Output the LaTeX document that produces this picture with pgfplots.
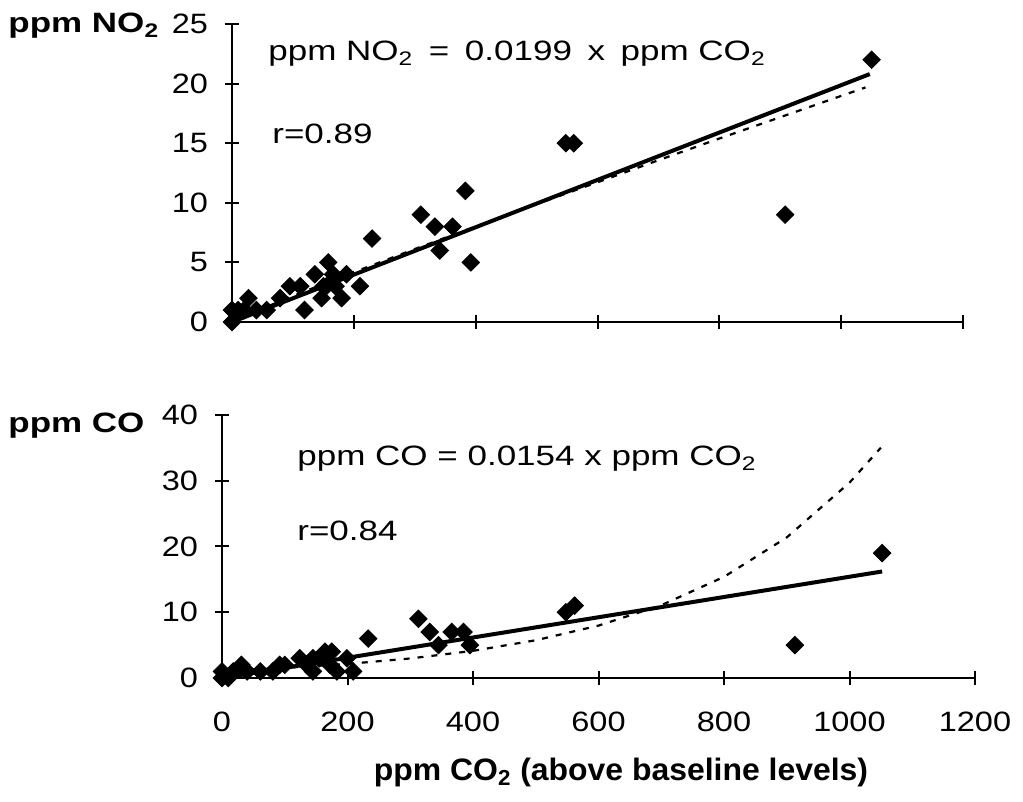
\documentclass[border=0pt]{standalone}
\usepackage{fontspec}
\setmainfont{Liberation Sans}
\newfontfamily\tickfont{Liberation Sans}[FakeStretch=1.16]
\newfontfamily\wide{Liberation Sans}[FakeStretch=1.25]
\newfontfamily\xfont{Liberation Sans}[FakeStretch=1.03]
\usepackage{pgfplots}
\pgfplotsset{compat=1.18}

% NO2 vs CO2 (top panel)
\pgfplotstableread{
x y
0 0
0 1
10 1
20 1
27 2
40 1
57 1
79 2
95 3
112 3
119 1
136 4
147 2
150 3
155 3
158 5
166 4
170 3
180 2
188 4
210 3
230 7
310 9
333 8
341 6
362 8
383 11
392 5
548 15
561 15
908 9
1050 22
}\noxdata
% CO vs CO2 (bottom panel)
\pgfplotstableread{
x y
0 0
0 1
10 0
18 1
31 2
40 1
61 1
81 1
92 2
100 2
124 3
135 2
145 3
145 1
155 3
164 4
172 2
175 4
183 1
199 3
209 1
233 6
313 9
331 7
345 5
366 7
385 7
395 5
548 10
562 11
913 5
1052 19
}\codata

\pgfplotsset{
  panel/.style={
    scale only axis, clip=false,
    xmin=0, xmax=1200,
    axis x line=bottom, axis y line=left,
    axis line style={-, line width=1.2pt},
    tick align=center, major tick length=7pt,
    tick style={line width=1pt, black},
    xtick={0,200,...,1200},
    /pgf/number format/assume math mode=true,
    /pgf/number format/1000 sep={},
    ticklabel style={font=\tickfont\fontsize{14}{16}\selectfont},
    yticklabel style={xshift=-5pt},
  },
  pts/.style={only marks, mark=square*, mark size=3.1pt,
    mark options={rotate=45, fill=black, draw=black}},
  fit/.style={black, line width=2pt},
  dots/.style={black, line width=1.1pt, dash pattern=on 3pt off 4pt},
}

\begin{document}
\begin{tikzpicture}
\path[use as bounding box] (0,0) rectangle (511.5pt,401pt);

\begin{axis}[panel,
  at={(116pt,240pt)}, anchor=south west,
  width=365.5pt, height=149pt,
  ymin=0, ymax=25, ytick={0,5,...,25},
  xticklabels={}]
  \addplot[dots] coordinates {(0,0) (10,0.25) (50,1.13) (100,2.18) (200,4.18)
    (300,6.12) (400,8.01) (500,9.89) (600,11.72) (700,13.57) (800,15.39)
    (900,17.18) (1040,19.68)};
  \addplot[fit] coordinates {(0,0) (1047,20.8)};
  \addplot[pts] table[x=x, y=y] {\noxdata};
\end{axis}

\begin{axis}[panel,
  at={(111pt,62pt)}, anchor=south west,
  width=376.5pt, height=131.5pt,
  ymin=0, ymax=40, ytick={0,10,...,40},
  xticklabel style={yshift=-10pt}]
  \addplot[dots] coordinates {(0,1.11) (100,1.54) (200,2.14) (300,2.97)
    (400,4.13) (500,5.74) (600,7.97) (700,11.07) (800,15.38) (900,21.38)
    (1000,29.71) (1050,35.03)};
  \addplot[fit] coordinates {(0,0) (1052,16.2)};
  \addplot[pts] table[x=x, y=y] {\codata};
\end{axis}

% axis titles and fit annotations
\node[anchor=base west, inner sep=0pt, font=\wide\bfseries\fontsize{14}{16}\selectfont]
  at (4pt,384.5pt) {ppm NO\textsubscript{2}};
\node[anchor=base west, inner sep=0pt, font=\wide\bfseries\fontsize{14}{16}\selectfont]
  at (4pt,184.5pt) {ppm CO};
\node[anchor=base west, inner sep=0pt, font=\wide\fontsize{14}{16}\selectfont]
  at (134pt,370.5pt) {ppm NO\textsubscript{2}\hspace{7.8pt}=\hspace{7.8pt}0.0199\hspace{7.8pt}x\hspace{7.8pt}ppm CO\textsubscript{2}};
\node[anchor=base west, inner sep=0pt, font=\wide\fontsize{14}{16}\selectfont]
  at (136pt,329pt) {r=0.89};
\node[anchor=base west, inner sep=0pt, font=\wide\fontsize{14}{16}\selectfont]
  at (148.5pt,168pt) {ppm CO = 0.0154 x ppm CO\textsubscript{2}};
\node[anchor=base west, inner sep=0pt, font=\wide\fontsize{14}{16}\selectfont]
  at (148.5pt,130.5pt) {r=0.84};
\node[anchor=center, inner sep=0pt, font=\xfont\bfseries\fontsize{15.5}{18}\selectfont]
  at (310.5pt,15pt) {ppm CO\textsubscript{2} (above baseline levels)};
\end{tikzpicture}
\end{document}
